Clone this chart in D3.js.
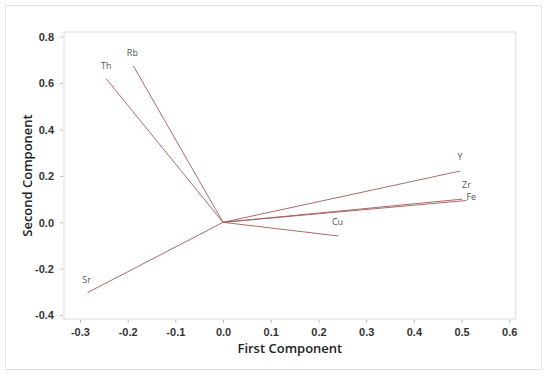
<!DOCTYPE html>
<html>
<head>
<meta charset="utf-8">
<script src="https://cdnjs.cloudflare.com/ajax/libs/d3/7.8.5/d3.min.js"></script>
<style>
body { margin: 0; background: white; }
svg { display: block; font-family: 'Open Sans', 'Noto Sans', sans-serif; }
.tick text { font-weight: 700; fill: #333; }
</style>
</head>
<body>
<div id="chart"></div>
<script>
// loadings - first and second component
var elements = ['Th', 'Rb', 'Sr', 'Cu', 'Y', 'Zr', 'Fe'];
var firstComp = [-0.245, -0.188, -0.284, 0.242, 0.497, 0.502, 0.510];
var secondComp = [0.619, 0.674, -0.303, -0.059, 0.221, 0.100, 0.094];
var xTicks = [-0.3, -0.2, -0.1, 0.0, 0.1, 0.2, 0.3, 0.4, 0.5, 0.6];
var yTicks = [-0.4, -0.2, 0.0, 0.2, 0.4, 0.6, 0.8];

// label offsets (dx, dy) relative to line end
var labelOff = {Th: [0, -10], Rb: [-1, -10], Sr: [-1, -10], Cu: [-1, -11], Y: [0, -11], Zr: [4, -11], Fe: [5, -1]};

var W = 550, H = 378;
var pLeft = 64, pRight = 515.7, pTop = 32, pBottom = 319;

var svg = d3.select('#chart')
.append('svg')
.attr('width', W)
.attr('height', H);

// outer frame
svg.append('rect')
.attr('x', 5.5).attr('y', 5.5)
.attr('width', 536).attr('height', 364)
.attr('fill', 'white')
.attr('stroke', '#e3e3e3');

var x = d3.scaleLinear().domain([-0.3334, 0.6135]).range([pLeft, pRight]);
var y = d3.scaleLinear().domain([-0.4167, 0.8203]).range([pBottom, pTop]);

// plot area border
svg.append('rect')
.attr('x', pLeft).attr('y', pTop)
.attr('width', pRight - pLeft).attr('height', pBottom - pTop)
.attr('fill', 'none')
.attr('stroke', '#dcdcdc');

var fmt = function(d){ return d.toFixed(1); };

var xAxis = svg.append('g')
.attr('transform', 'translate(0,' + (pBottom + 1) + ')')
.call(d3.axisBottom(x).tickValues(xTicks).tickFormat(fmt).tickSize(3).tickPadding(5));

var yAxis = svg.append('g')
.attr('transform', 'translate(' + (pLeft - 1) + ',0)')
.call(d3.axisLeft(y).tickValues(yTicks).tickFormat(fmt).tickSize(3).tickPadding(6));

[xAxis, yAxis].forEach(function(a){
    a.select('.domain').remove();
    a.selectAll('.tick line').attr('stroke', '#bbb');
    a.selectAll('.tick text').style('font-size', '11px');
});
yAxis.selectAll('.tick text').attr('dy', '0.35em');

// axis titles
svg.append('text')
.text('First Component')
.attr('x', (pLeft + pRight) / 2)
.attr('y', 353)
.attr('text-anchor', 'middle')
.style('font-size', '13px')
.style('font-weight', 600)
.attr('fill', '#222');

svg.append('text')
.text('Second Component')
.attr('transform', 'translate(32,' + ((pTop + pBottom) / 2) + ') rotate(-90)')
.attr('text-anchor', 'middle')
.style('font-size', '13px')
.style('font-weight', 600)
.attr('fill', '#222');

// loading vectors
var data = elements.map(function(e, i){ return {name: e, pc1: firstComp[i], pc2: secondComp[i]}; });

svg.selectAll('line.vec')
.data(data)
.enter()
.append('line')
.attr('class', 'vec')
.attr('x1', x(0)).attr('y1', y(0))
.attr('x2', function(d){ return x(d.pc1); })
.attr('y2', function(d){ return y(d.pc2); })
.attr('stroke', '#a45a5a')
.attr('stroke-width', 0.9);

svg.selectAll('text.lbl')
.data(data)
.enter()
.append('text')
.attr('class', 'lbl')
.text(function(d){ return d.name; })
.attr('x', function(d){ return x(d.pc1) + labelOff[d.name][0]; })
.attr('y', function(d){ return y(d.pc2) + labelOff[d.name][1]; })
.attr('text-anchor', 'middle')
.style('font-size', '9px')
.attr('fill', '#555');
</script>
</body>
</html>
